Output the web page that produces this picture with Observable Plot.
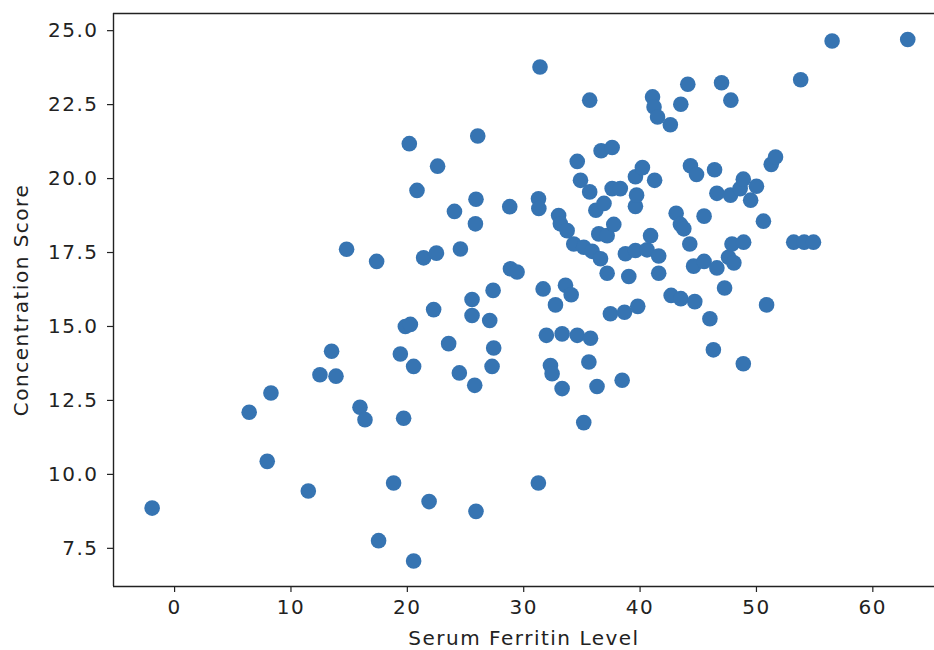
<!DOCTYPE html>
<html><head><meta charset="utf-8">
<script src="https://cdn.jsdelivr.net/npm/d3@7"></script>
<script src="https://cdn.jsdelivr.net/npm/@observablehq/plot@0.6"></script>
<style>body{margin:0;background:#fff}#chart svg{display:block}</style>
</head><body><div id="chart"></div>
<script>
const ferritin = [
  -1.93, 6.41, 8.28, 7.96, 11.49, 12.49, 13.49, 13.87, 14.78, 15.93,
  16.36, 17.36, 17.53, 18.82, 19.4, 19.68, 19.83, 20.26, 20.17, 20.54,
  20.54, 20.83, 21.4, 21.87, 22.5, 22.6, 22.26, 23.55, 24.05, 24.47,
  24.56, 25.9, 25.79, 25.56, 25.56, 25.9, 25.85, 26.05, 27.08, 27.28,
  27.42, 27.37, 28.8, 28.86, 29.43, 31.26, 31.27, 31.3, 31.4, 31.67,
  31.95, 32.3, 32.44, 32.73, 33.0, 33.15, 33.73, 33.3, 33.3, 33.59,
  34.08, 34.3, 34.6, 34.6, 34.88, 35.16, 35.16, 35.6, 35.67, 35.67,
  35.74, 35.88, 36.2, 36.3, 36.45, 36.6, 36.65, 36.9, 37.17, 37.17,
  37.45, 37.6, 37.6, 37.74, 38.3, 38.46, 38.66, 38.74, 39.03, 39.6,
  39.6, 39.6, 39.7, 39.8, 40.2, 40.6, 40.9, 41.07, 41.2, 41.25,
  41.5, 41.6, 41.6, 42.6, 42.67, 43.1, 43.47, 43.76, 43.5, 43.5,
  44.1, 44.27, 44.33, 44.6, 44.7, 44.85, 45.5, 45.5, 46.0, 46.3,
  46.4, 46.6, 46.6, 47.0, 47.26, 47.6, 47.77, 47.8, 47.9, 48.06,
  48.6, 48.87, 48.87, 48.9, 49.5, 50.0, 50.6, 50.87, 51.27, 51.64,
  53.2, 53.8, 54.1, 54.9, 56.5, 63.0
];
const concentration = [
  8.86, 12.1, 12.75, 10.44, 9.44, 13.37, 14.16, 13.32, 17.61, 12.27,
  11.85, 17.2, 7.76, 9.71, 14.07, 11.9, 15.0, 15.07, 21.18, 13.65,
  7.07, 19.6, 17.32, 9.08, 17.48, 20.42, 15.57, 14.42, 18.89, 13.43,
  17.62, 8.75, 13.01, 15.91, 15.37, 19.3, 18.47, 21.44, 15.2, 13.65,
  14.27, 16.22, 19.05, 16.95, 16.84, 9.71, 19.32, 18.99, 23.77, 16.27,
  14.7, 13.68, 13.4, 15.73, 18.75, 18.47, 18.24, 14.75, 12.9, 16.39,
  16.07, 17.79, 14.7, 20.58, 19.94, 17.68, 11.75, 13.8, 19.55, 22.65,
  14.6, 17.54, 18.93, 12.97, 18.13, 17.29, 20.94, 19.16, 18.07, 16.8,
  15.43, 21.05, 19.66, 18.45, 19.66, 13.18, 15.48, 17.46, 16.69, 17.57,
  19.06, 20.06, 19.44, 15.68, 20.37, 17.59, 18.07, 22.76, 22.42, 19.94,
  22.08, 17.38, 16.8, 21.82, 16.05, 18.83, 18.45, 18.3, 22.51, 15.94,
  23.19, 17.79, 20.43, 17.04, 15.84, 20.14, 18.73, 17.2, 15.26, 14.21,
  20.3, 16.98, 19.5, 23.24, 16.3, 17.34, 19.44, 22.65, 17.79, 17.15,
  19.66, 19.98, 13.74, 17.85, 19.27, 19.74, 18.56, 15.73, 20.48, 20.73,
  17.85, 23.34, 17.85, 17.85, 24.65, 24.7
];
const xTicks = [0, 10, 20, 30, 40, 50, 60];
const yTicks = [7.5, 10, 12.5, 15, 17.5, 20, 22.5, 25];
const xDomain = [-5.25, 65.3];
const yDomain = [6.21, 25.58];

const data = ferritin.map((x, i) => ({x, y: concentration[i]}));
const ink = "#222";

const chart = Plot.plot({
  width: 934,
  height: 650,
  marginLeft: 113,
  marginRight: 0,
  marginTop: 13,
  marginBottom: 64,
  style: {fontFamily: "DejaVu Sans", fontSize: "20px", letterSpacing: "1.5px", background: "#fff", color: ink},
  x: {domain: xDomain},
  y: {domain: yDomain},
  marks: [
    Plot.dot(data, {x: "x", y: "y", r: 7.8, fill: "#3674b2", stroke: "none"}),
    Plot.axisX({ticks: xTicks, tickSize: 6, tickPadding: 7, stroke: ink, strokeWidth: 1.2,
      label: "Serum Ferritin Level", labelAnchor: "center", labelArrow: false, labelOffset: 58}),
    Plot.axisY({ticks: yTicks, tickSize: 6, tickPadding: 9, stroke: ink, strokeWidth: 1.2,
      tickFormat: d3.format(".1f"),
      label: "Concentration Score", labelAnchor: "center", labelArrow: false, labelOffset: 100}),
    Plot.ruleX([xDomain[0]], {stroke: ink, strokeWidth: 1.4}),
    Plot.ruleY(yDomain, {stroke: ink, strokeWidth: 1.4})
  ]
});
document.getElementById("chart").appendChild(chart);
</script>
</body></html>
